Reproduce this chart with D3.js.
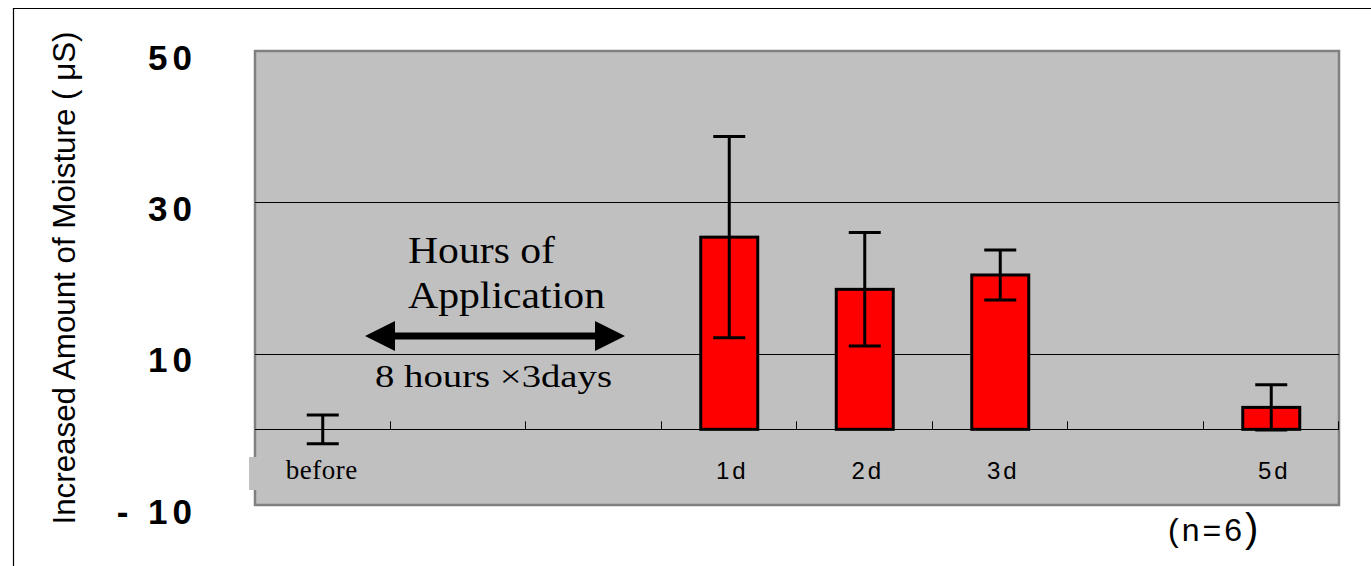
<!DOCTYPE html>
<html>
<head>
<meta charset="utf-8">
<script src="https://cdn.jsdelivr.net/npm/d3@7"></script>
<style>
	body { margin: 0; background: #fff; }
	.serif { font-family: "Liberation Serif", "DejaVu Serif", serif; fill: #000; }
	.sans { font-family: "Liberation Sans", Arial, sans-serif; fill: #000; }
</style>
</head>
<body>
<script>

var width = 1371,
	height = 566;

// slots along the x axis, empty ones are the application period
var categories = ["before", "", "", "1d", "2d", "3d", "", "5d"];
var means = [0, null, null, 25.4, 18.5, 20.4, null, 2.9];
var errors = [1.9, null, null, 13.3, 7.5, 3.3, null, 3.0];
var yTicks = [-10, 10, 30, 50];
var gridValues = [0, 10, 30];

var plot = { left: 255, top: 51, right: 1339, bottom: 505 };

var svg = d3.select("body").append("svg")
	.attr("width", width)
	.attr("height", height);

// outer frame (top + left only)
svg.append("path")
	.attr("d", "M13.5," + height + " L13.5,8.5 L" + width + ",8.5")
	.attr("fill", "none")
	.attr("stroke", "#000")
	.attr("stroke-width", 1.2);

var x = d3.scaleBand()
	.domain(d3.range(categories.length))
	.range([plot.left, plot.right]);

var y = d3.scaleLinear()
	.domain([-10, 50])
	.range([plot.bottom, plot.top]);

// plot area
svg.append("rect")
	.attr("x", plot.left)
	.attr("y", plot.top)
	.attr("width", plot.right - plot.left)
	.attr("height", plot.bottom - plot.top)
	.attr("fill", "#c0c0c0")
	.attr("stroke", "#808080")
	.attr("stroke-width", 2.5);

// grey box behind "before"
svg.append("rect")
	.attr("x", 249)
	.attr("y", 457)
	.attr("width", 110)
	.attr("height", 33)
	.attr("fill", "#c0c0c0");

// gridlines
svg.append("g").selectAll("line")
	.data(gridValues)
  .enter().append("line")
	.attr("x1", plot.left)
	.attr("x2", plot.right)
	.attr("y1", function(d) { return Math.round(y(d)) + 0.5; })
	.attr("y2", function(d) { return Math.round(y(d)) + 0.5; })
	.attr("stroke", "#000")
	.attr("stroke-width", 1);

// small ticks on the zero line at slot boundaries
svg.append("g").selectAll("line")
	.data(d3.range(1, categories.length + 1))
  .enter().append("line")
	.attr("x1", function(i) { return Math.round(plot.left + i * x.step()) - 0.5; })
	.attr("x2", function(i) { return Math.round(plot.left + i * x.step()) - 0.5; })
	.attr("y1", y(0) - 8)
	.attr("y2", y(0))
	.attr("stroke", "#000")
	.attr("stroke-width", 1);

// y axis labels
var yAxis = d3.axisLeft(y)
	.tickValues(yTicks)
	.tickSize(0)
	.tickPadding(0)
	.tickFormat(function(d) { return d < 0 ? "- " + Math.abs(d) : d; });

var yg = svg.append("g")
	.attr("transform", "translate(197,0)")
	.call(yAxis);
yg.select(".domain").remove();
yg.selectAll("text")
	.attr("class", "sans")
	.attr("dy", "0.35em")
	.attr("y", 6)
	.style("font-size", "35px")
	.style("font-weight", "bold")
	.style("letter-spacing", "5px")
	.attr("fill", "#000");

// y axis title
svg.append("text")
	.attr("class", "sans")
	.attr("transform", "translate(75,278) rotate(-90)")
	.attr("text-anchor", "middle")
	.attr("textLength", 493)
	.attr("lengthAdjust", "spacingAndGlyphs")
	.style("font-size", "31px")
	.text("Increased Amount of Moisture ( μS)");

// bars
var bw = 57;
var idx = d3.range(categories.length);

svg.append("g").selectAll("rect")
	.data(idx.filter(function(i) { return means[i] > 0; }))
  .enter().append("rect")
	.attr("x", function(i) { return x(i) + x.bandwidth() / 2 - bw / 2; })
	.attr("y", function(i) { return y(means[i]); })
	.attr("width", bw)
	.attr("height", function(i) { return y(0) - y(means[i]); })
	.attr("fill", "#ff0000")
	.attr("stroke", "#000")
	.attr("stroke-width", 3);

// error bars
var eb = svg.append("g")
	.attr("stroke", "#000")
	.attr("stroke-width", 3)
	.selectAll("g")
	.data(idx.filter(function(i) { return errors[i] != null; }))
  .enter().append("g");

var cx = function(i) { return x(i) + x.bandwidth() / 2; };
var capW = 32;

eb.append("line")
	.attr("x1", cx).attr("x2", cx)
	.attr("y1", function(i) { return y(means[i] + errors[i]); })
	.attr("y2", function(i) { return y(means[i] - errors[i]); });
eb.append("line")
	.attr("x1", function(i) { return cx(i) - capW / 2; })
	.attr("x2", function(i) { return cx(i) + capW / 2; })
	.attr("y1", function(i) { return y(means[i] + errors[i]); })
	.attr("y2", function(i) { return y(means[i] + errors[i]); });
eb.append("line")
	.attr("x1", function(i) { return cx(i) - capW / 2; })
	.attr("x2", function(i) { return cx(i) + capW / 2; })
	.attr("y1", function(i) { return y(means[i] - errors[i]); })
	.attr("y2", function(i) { return y(means[i] - errors[i]); });

// category labels
svg.append("g").selectAll("text")
	.data(idx.filter(function(i) { return categories[i] !== ""; }))
  .enter().append("text")
	.attr("class", function(i) { return i === 0 ? "serif" : "sans"; })
	.attr("x", function(i) { return cx(i) + (i === 0 ? -1 : 3); })
	.attr("y", 479)
	.attr("text-anchor", "middle")
	.style("font-size", function(i) { return i === 0 ? "27px" : "24px"; })
	.style("letter-spacing", function(i) { return i === 0 ? "0.5px" : "3px"; })
	.text(function(i) { return categories[i]; });

// application annotation
svg.append("text")
	.attr("class", "serif")
	.attr("x", 408).attr("y", 263)
	.attr("textLength", 147)
	.attr("lengthAdjust", "spacingAndGlyphs")
	.style("font-size", "37px")
	.text("Hours of");
svg.append("text")
	.attr("class", "serif")
	.attr("x", 408).attr("y", 308)
	.attr("textLength", 197)
	.attr("lengthAdjust", "spacingAndGlyphs")
	.style("font-size", "37px")
	.text("Application");

svg.append("line")
	.attr("x1", 390).attr("x2", 600)
	.attr("y1", 336).attr("y2", 336)
	.attr("stroke", "#000")
	.attr("stroke-width", 7);
svg.append("path")
	.attr("d", "M365,336 L395,321 L395,351 Z M625,336 L595,321 L595,351 Z")
	.attr("fill", "#000");

svg.append("text")
	.attr("class", "serif")
	.attr("x", 375).attr("y", 387)
	.attr("textLength", 237)
	.attr("lengthAdjust", "spacingAndGlyphs")
	.style("font-size", "32px")
	.text("8 hours  ×3days");

// sample size
var nt = svg.append("text")
	.attr("class", "sans")
	.attr("x", 1168).attr("y", 541);
nt.append("tspan")
	.style("font-size", "32px")
	.style("letter-spacing", "3px")
	.text("(n=6");
nt.append("tspan")
	.style("font-size", "40px")
	.attr("dy", 1)
	.text(")");

</script>
</body>
</html>
